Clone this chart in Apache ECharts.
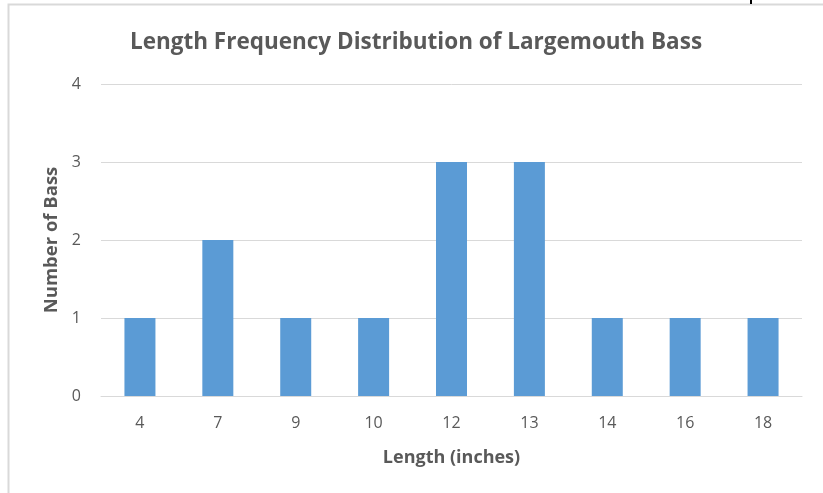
<!DOCTYPE html>
<html>
<head>
<meta charset="utf-8">
<script src="https://cdn.jsdelivr.net/npm/echarts@6/dist/echarts.min.js"></script>
<style>
html,body{margin:0;padding:0;background:#fff;}
#chart{width:823px;height:493px;}
</style>
</head>
<body>
<div id="chart"></div>
<script>
const categories = ['4', '7', '9', '10', '12', '13', '14', '16', '18'];
const counts = [1, 2, 1, 1, 3, 3, 1, 1, 1];
const yTicks = [0, 1, 2, 3, 4];

const chart = echarts.init(document.getElementById('chart'), null, {renderer: 'canvas'});
const font = '"Open Sans", "Noto Sans", sans-serif';
chart.setOption({
  animation: false,
  backgroundColor: '#ffffff',
  graphic: [
    {type: 'rect', shape: {x: 8.5, y: 4.5, width: 900, height: 600}, style: {fill: 'none', stroke: '#d9d9d9', lineWidth: 2}, silent: true},
    {type: 'rect', shape: {x: 750, y: 0, width: 2, height: 4}, style: {fill: '#000000'}, silent: true}
  ],
  title: {
    text: 'Length Frequency Distribution of Largemouth Bass',
    left: 411, top: 26, textAlign: 'center',
    textStyle: {fontFamily: font, fontSize: 22.5, fontWeight: 'bold', color: '#595959'}
  },
  grid: {left: 101, right: 21, top: 84, bottom: 97, containLabel: false},
  xAxis: {
    type: 'category',
    data: categories,
    name: 'Length (inches)',
    nameLocation: 'middle',
    nameGap: 53,
    nameTextStyle: {fontFamily: font, fontSize: 18, fontWeight: 'bold', color: '#595959'},
    axisLine: {show: true, lineStyle: {color: '#d9d9d9', width: 1}},
    axisTick: {show: false},
    axisLabel: {fontFamily: font, fontSize: 16, color: '#595959', margin: 19}
  },
  yAxis: {
    type: 'value',
    min: 0, max: 4, interval: 1,
    name: 'Number of Bass',
    nameLocation: 'middle',
    nameGap: 40,
    nameTextStyle: {fontFamily: font, fontSize: 18.5, fontWeight: 'bold', color: '#595959'},
    axisLine: {show: false},
    axisTick: {show: false},
    axisLabel: {fontFamily: font, fontSize: 16, color: '#595959', margin: 20,
      formatter: v => yTicks.includes(v) ? String(v) : ''},
    splitLine: {lineStyle: {color: '#d9d9d9', width: 1}}
  },
  series: [{
    type: 'bar',
    data: counts,
    barWidth: 31,
    itemStyle: {color: '#5b9bd5'}
  }]
});
</script>
</body>
</html>
